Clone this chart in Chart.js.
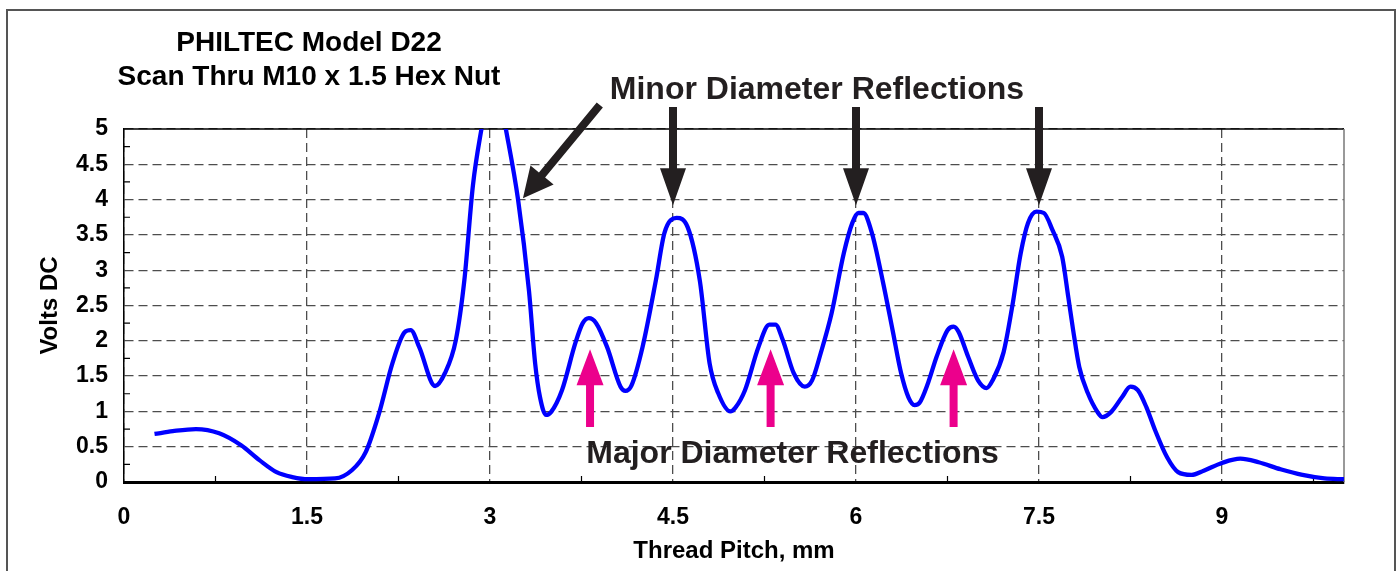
<!DOCTYPE html>
<html>
<head>
<meta charset="utf-8">
<title>PHILTEC Model D22</title>
<script src="https://cdn.jsdelivr.net/npm/chart.js@4/dist/chart.umd.min.js"></script>
<style>
  html, body { margin: 0; padding: 0; background: #fff; }
  #quadro { position: relative; width: 1399px; height: 571px; }
</style>
</head>
<body>
<div id="quadro"><canvas id="grafico" width="1399" height="571"></canvas></div>
<script>
/**
 * Varredura do sensor PHILTEC D22 ao longo da rosca de uma porca M10 x 1.5.
 * Valores (mm x Volts DC).
 */

// --- Dados da curva ---
const passoMm = [
  0.25, 0.4, 0.59, 0.78, 0.96, 1.11, 1.25, 1.38, 1.51, 1.73, 1.87, 1.98,
  2.09, 2.2, 2.3, 2.35, 2.42, 2.55, 2.63, 2.72, 2.79, 2.86, 2.93, 3.03,
  3.13, 3.23, 3.32, 3.37, 3.41, 3.46, 3.5, 3.59, 3.7, 3.76, 3.81, 3.87,
  3.96, 4.07, 4.11, 4.16, 4.25, 4.36, 4.43, 4.53, 4.62, 4.72, 4.8, 4.87,
  4.97, 5.01, 5.09, 5.2, 5.29, 5.34, 5.4, 5.49, 5.58, 5.64, 5.71, 5.8,
  5.9, 5.97, 6.02, 6.06, 6.13, 6.22, 6.3, 6.37, 6.43, 6.48, 6.52, 6.59,
  6.66, 6.75, 6.8, 6.84, 6.92, 7.0, 7.07, 7.12, 7.21, 7.28, 7.35, 7.41,
  7.48, 7.54, 7.61, 7.69, 7.74, 7.78, 7.83, 7.9, 7.98, 8.02, 8.09, 8.18,
  8.25, 8.31, 8.38, 8.45, 8.55, 8.64, 8.75, 8.85, 9.0, 9.15, 9.3, 9.48,
  9.66, 9.84, 10.0
];
const tensaoVolts = [
  0.68, 0.72, 0.75, 0.69, 0.52, 0.31, 0.14, 0.07, 0.04, 0.05, 0.17, 0.42,
  0.97, 1.68, 2.12, 2.15, 1.91, 1.36, 1.54, 2.01, 2.86, 4.2, 5.0, 5.9,
  5.0, 4.0, 2.7, 1.68, 1.2, 0.95, 0.99, 1.3, 1.97, 2.25, 2.32, 2.25,
  1.91, 1.35, 1.29, 1.37, 1.91, 2.86, 3.53, 3.74, 3.61, 2.85, 1.68, 1.26,
  1.0, 1.05, 1.3, 1.91, 2.23, 2.23, 2.01, 1.54, 1.35, 1.44, 1.82, 2.39,
  3.24, 3.67, 3.81, 3.81, 3.53, 2.84, 2.15, 1.54, 1.2, 1.09, 1.12, 1.4,
  1.77, 2.15, 2.2, 2.13, 1.77, 1.44, 1.33, 1.44, 1.84, 2.48, 3.24, 3.67,
  3.83, 3.81, 3.57, 3.19, 2.62, 2.15, 1.63, 1.26, 0.99, 0.92, 0.99, 1.2,
  1.35, 1.3, 1.06, 0.74, 0.35, 0.14, 0.1, 0.16, 0.27, 0.33, 0.28, 0.18,
  0.1, 0.05, 0.04
];

// --- Escalas ---
const ticksX = [0, 1.5, 3, 4.5, 6, 7.5, 9];
const ticksY = [0, 0.5, 1, 1.5, 2, 2.5, 3, 3.5, 4, 4.5, 5];
const ticksMenoresX = [0.75, 2.25, 3.75, 5.25, 6.75, 8.25, 9.75];
const ticksMenoresY = [0.25, 0.75, 1.25, 1.75, 2.25, 2.75, 3.25, 3.75, 4.25, 4.75];

// --- Anotações (em unidades do gráfico) ---
const setasMenorX = [4.5, 6.0, 7.5];       // picos do diâmetro menor
const setasMenorY = [5.31, 3.92];           // cauda, ponta
const setasMaiorX = [3.82, 5.3, 6.8];       // picos do diâmetro maior
const setasMaiorY = [0.78, 1.88];           // cauda, ponta
const setaDiagonal = [[3.9, 5.34], [3.27, 4.02]];

const FONTE = '"Liberation Sans", Arial, sans-serif';
const COR_TEXTO = '#231f20';

function desenharSeta(ctx, x0, y0, x1, y1, corpo, largCabeca, compCabeca, cor) {
  const ang = Math.atan2(y1 - y0, x1 - x0);
  const comp = Math.hypot(x1 - x0, y1 - y0);
  ctx.save();
  ctx.translate(x0, y0);
  ctx.rotate(ang);
  ctx.fillStyle = cor;
  ctx.beginPath();
  ctx.moveTo(0, -corpo / 2);
  ctx.lineTo(comp - compCabeca, -corpo / 2);
  ctx.lineTo(comp - compCabeca, -largCabeca / 2);
  ctx.lineTo(comp, 0);
  ctx.lineTo(comp - compCabeca, largCabeca / 2);
  ctx.lineTo(comp - compCabeca, corpo / 2);
  ctx.lineTo(0, corpo / 2);
  ctx.closePath();
  ctx.fill();
  ctx.restore();
}

// Moldura, bordas da área, marcas menores, setas e textos
const pluginDesenhos = {
  id: 'desenhos',
  beforeDraw(chart) {
    const ctx = chart.ctx;
    ctx.save();
    ctx.fillStyle = '#fff';
    ctx.fillRect(0, 0, chart.width, chart.height);
    ctx.strokeStyle = '#555';
    ctx.lineWidth = 2;
    ctx.strokeRect(7, 10, 1388, 620);
    ctx.restore();
  },
  beforeDatasetsDraw(chart) {
    const { ctx, chartArea: a, scales: { x, y } } = chart;
    ctx.save();
    ctx.lineWidth = 1.5;
    ctx.strokeStyle = '#000';
    ctx.beginPath();
    ctx.moveTo(a.left, a.top);
    ctx.lineTo(a.right, a.top);
    ctx.stroke();
    ctx.strokeStyle = '#777';
    ctx.beginPath();
    ctx.moveTo(a.right, a.top);
    ctx.lineTo(a.right, a.bottom);
    ctx.stroke();

    ctx.strokeStyle = '#000';
    ctx.lineWidth = 1.2;
    ctx.beginPath();
    ticksMenoresY.forEach(v => {
      const py = y.getPixelForValue(v);
      ctx.moveTo(a.left, py);
      ctx.lineTo(a.left + 6, py);
    });
    ticksMenoresX.forEach(v => {
      const px = x.getPixelForValue(v);
      ctx.moveTo(px, a.bottom);
      ctx.lineTo(px, a.bottom - 6);
    });
    ctx.stroke();
    ctx.restore();
  },
  afterDatasetsDraw(chart) {
    const { ctx, scales: { x, y } } = chart;

    // título do gráfico
    ctx.save();
    ctx.fillStyle = '#000';
    ctx.textAlign = 'center';
    ctx.textBaseline = 'alphabetic';
    ctx.font = `bold 28px ${FONTE}`;
    ctx.fillText('PHILTEC Model D22', 309, 51);
    ctx.fillText('Scan Thru M10 x 1.5 Hex Nut', 309, 85);

    // setas pretas (diâmetro menor)
    setasMenorX.forEach(v => {
      const px = x.getPixelForValue(v);
      desenharSeta(ctx, px, y.getPixelForValue(setasMenorY[0]), px, y.getPixelForValue(setasMenorY[1]),
        8, 26, 37, COR_TEXTO);
    });
    desenharSeta(ctx,
      x.getPixelForValue(setaDiagonal[0][0]), y.getPixelForValue(setaDiagonal[0][1]),
      x.getPixelForValue(setaDiagonal[1][0]), y.getPixelForValue(setaDiagonal[1][1]),
      8, 30, 30, COR_TEXTO);

    // setas rosa (diâmetro maior)
    setasMaiorX.forEach(v => {
      const px = x.getPixelForValue(v);
      desenharSeta(ctx, px, y.getPixelForValue(setasMaiorY[0]), px, y.getPixelForValue(setasMaiorY[1]),
        8, 27, 36, '#ec008c');
    });

    // textos das anotações
    ctx.font = `bold 32px ${FONTE}`;
    ctx.fillStyle = COR_TEXTO;
    ctx.fillText('Minor Diameter Reflections', x.getPixelForValue(5.68), 99);
    ctx.fillText('Major Diameter Reflections', x.getPixelForValue(5.48), 463);
    ctx.restore();
  }
};

const pontos = passoMm.map((v, i) => ({ x: v, y: tensaoVolts[i] }));

new Chart(document.getElementById('grafico'), {
  type: 'line',
  data: {
    datasets: [{
      data: pontos,
      borderColor: '#0000ff',
      borderWidth: 4.3,
      pointRadius: 0,
      fill: false,
      cubicInterpolationMode: 'monotone',
      clip: 0
    }]
  },
  options: {
    responsive: false,
    animation: false,
    layout: { padding: { top: 129, right: 55, left: 0, bottom: 0 } },
    plugins: { legend: { display: false }, tooltip: { enabled: false } },
    scales: {
      x: {
        type: 'linear',
        min: 0,
        max: 10,
        afterBuildTicks: s => { s.ticks = ticksX.map(v => ({ value: v })); },
        afterFit: s => { s.height = 89; },
        ticks: {
          padding: 22,
          autoSkip: false,
          maxRotation: 0,
          color: '#000',
          font: { family: FONTE, size: 23, weight: 'bold' },
          callback: v => v
        },
        grid: { color: '#4d4d4d', lineWidth: 1.3, drawTicks: false },
        border: { color: '#000', width: 3, dash: [9, 5] },
        title: {
          display: true,
          text: 'Thread Pitch, mm',
          color: '#000',
          font: { family: FONTE, size: 24, weight: 'bold' },
          padding: { top: 0, bottom: 5 }
        }
      },
      y: {
        type: 'linear',
        min: 0,
        max: 5,
        afterBuildTicks: s => { s.ticks = ticksY.map(v => ({ value: v })); },
        afterFit: s => { s.width = 124; },
        ticks: {
          padding: 16,
          color: '#000',
          font: { family: FONTE, size: 23, weight: 'bold' },
          callback: v => v
        },
        grid: { color: '#4d4d4d', lineWidth: 1.3, drawTicks: false },
        border: { color: '#000', width: 1.5, dash: [9, 5] },
        title: {
          display: true,
          text: 'Volts DC',
          color: '#000',
          font: { family: FONTE, size: 24, weight: 'bold' },
          padding: { top: 36, bottom: 0 }
        }
      }
    }
  },
  plugins: [pluginDesenhos]
});
</script>
</body>
</html>
